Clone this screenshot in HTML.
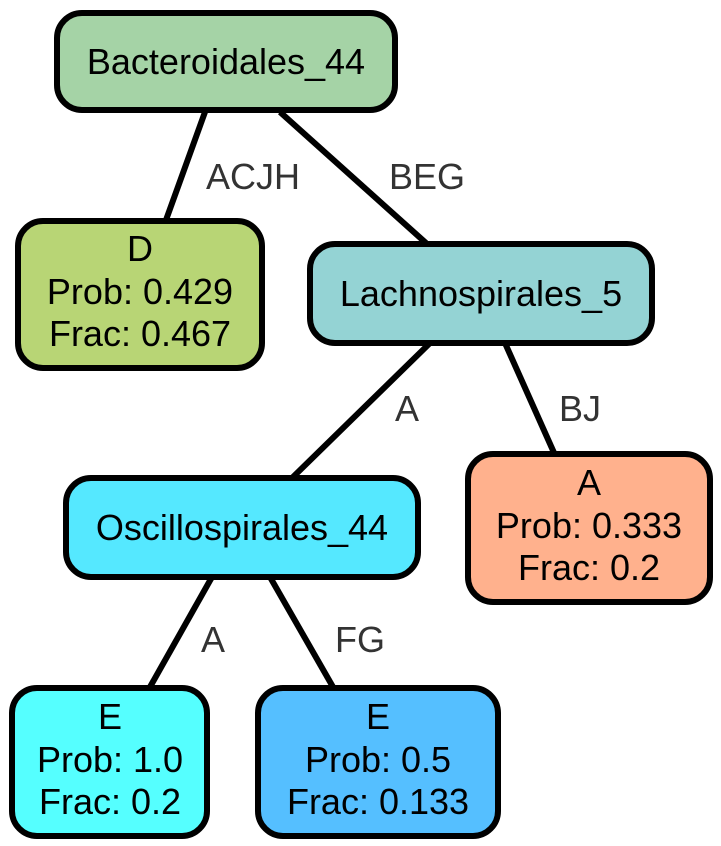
<!DOCTYPE html>
<html><head><meta charset="utf-8"><style>
html,body{margin:0;padding:0;background:#fff}
svg{display:block}
text{font-family:"Liberation Sans",Arial,sans-serif}
.n{font-size:36px;fill:#000;text-anchor:middle}
.e{font-size:36px;fill:#333;text-anchor:middle}
rect{stroke:#000;stroke-width:6}
line{stroke:#000;stroke-width:6}
</style></head><body>
<svg width="721" height="846" viewBox="0 0 721 846">
<g>
<line x1="205" y1="112" x2="166" y2="220"/>
<line x1="280" y1="112" x2="426" y2="243"/>
<line x1="430" y1="343" x2="293" y2="477"/>
<line x1="505" y1="343" x2="555" y2="455"/>
<line x1="212" y1="577" x2="150" y2="687"/>
<line x1="270" y1="577" x2="333" y2="687"/>
</g>
<g>
<text class="e" x="253" y="189">ACJH</text>
<text class="e" x="427" y="189">BEG</text>
<text class="e" x="407" y="421">A</text>
<text class="e" x="580" y="421">BJ</text>
<text class="e" x="213" y="652">A</text>
<text class="e" x="360" y="652">FG</text>
</g>
<g>
<rect x="57" y="13" width="338" height="97" rx="25" fill="#a5d3a6"/>
<text class="n" x="226" y="74">Bacteroidales_44</text>
</g>
<g>
<rect x="18" y="221" width="244" height="147" rx="25" fill="#b8d575"/>
<text class="n" x="140" y="261">D</text>
<text class="n" x="140" y="304">Prob: 0.429</text>
<text class="n" x="140" y="346">Frac: 0.467</text>
</g>
<g>
<rect x="310" y="244" width="342" height="99" rx="25" fill="#94d3d4"/>
<text class="n" x="481" y="306">Lachnospirales_5</text>
</g>
<g>
<rect x="66" y="478" width="352" height="99" rx="25" fill="#55e8ff"/>
<text class="n" x="242" y="540">Oscillospirales_44</text>
</g>
<g>
<rect x="468" y="454" width="242" height="148" rx="25" fill="#ffb18d"/>
<text class="n" x="589" y="495">A</text>
<text class="n" x="589" y="538">Prob: 0.333</text>
<text class="n" x="589" y="580">Frac: 0.2</text>
</g>
<g>
<rect x="12" y="688" width="195" height="148" rx="25" fill="#55ffff"/>
<text class="n" x="110" y="729">E</text>
<text class="n" x="110" y="772">Prob: 1.0</text>
<text class="n" x="110" y="814">Frac: 0.2</text>
</g>
<g>
<rect x="258" y="688" width="240" height="148" rx="25" fill="#55bfff"/>
<text class="n" x="378" y="729">E</text>
<text class="n" x="378" y="772">Prob: 0.5</text>
<text class="n" x="378" y="814">Frac: 0.133</text>
</g>
</svg>
</body></html>
